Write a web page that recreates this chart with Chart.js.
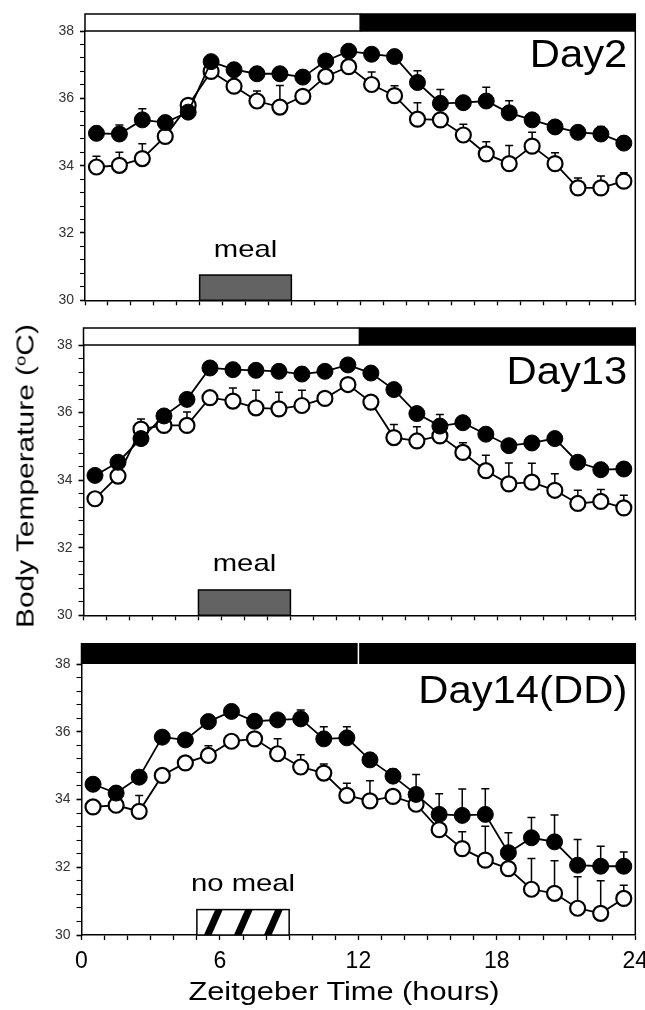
<!DOCTYPE html>
<html><head><meta charset="utf-8">
<script src="https://cdn.jsdelivr.net/npm/chart.js@4.4.1/dist/chart.umd.min.js"></script>
<style>
html,body{margin:0;padding:0;background:#fff;}
#wrap{position:relative;width:645px;height:1010px;overflow:hidden;font-family:"Liberation Sans",Arial,sans-serif;background:#fff;}
canvas{position:absolute;left:0;}
.t{position:absolute;white-space:nowrap;color:#000;line-height:1;}
#ytitle{left:26px;top:476px;font-size:23px;transform:translate(-50%,-50%) rotate(-90deg) scale(1.3,1);}
#xtitle{left:344px;top:991px;font-size:25px;transform:translate(-50%,-50%) scale(1.23,1);}
sup{font-size:0.62em;vertical-align:0.55em;line-height:0;}
</style></head><body>
<div id="wrap">
<canvas id="c1" width="645" height="310" style="top:0px"></canvas>
<canvas id="c2" width="645" height="310" style="top:315px"></canvas>
<canvas id="c3" width="645" height="380" style="top:630px"></canvas>
<div class="t" id="ytitle">Body Temperature (<sup>o</sup>C)</div>
<div class="t" id="xtitle">Zeitgeber Time (hours)</div>
</div>
<script>
// ---------- data ----------
const hours = [0.5,1.5,2.5,3.5,4.5,5.5,6.5,7.5,8.5,9.5,10.5,11.5,12.5,13.5,14.5,15.5,16.5,17.5,18.5,19.5,20.5,21.5,22.5,23.5];
const xTickLabels = [0,6,12,18,24];
const yTickLabels = [30,32,34,36,38];
const panelTitles = ['Day2','Day13','Day14(DD)'];
const mealLabels = ['meal','meal','no meal'];
const mealWindow = [5,9];      // hours
const mealBarTop = 30.75;      // °C (bar drawn from axis to here)
const mealLabelY = 31.3;

const day2Filled  = [34.96,34.94,35.36,35.28,35.59,37.09,36.85,36.73,36.73,36.63,37.11,37.40,37.31,37.24,36.47,35.85,35.87,35.92,35.57,35.36,35.15,34.99,34.94,34.67];
const day2FilledErr = [0.2,0.27,0.33,0.15,0.15,0.1,0.15,0.15,0.15,0.1,0.1,0.1,0.1,0.1,0.35,0.41,0.15,0.41,0.36,0.15,0.1,0.1,0.22,0.1];
const day2Open    = [33.96,34.01,34.21,34.87,35.79,36.80,36.36,35.92,35.74,36.06,36.65,36.94,36.41,36.08,35.38,35.36,34.91,34.35,34.06,34.58,34.06,33.34,33.34,33.54];
const day2OpenErr = [0.32,0.39,0.44,0.1,0.15,0.1,0.29,0.3,0.64,0.1,0.1,0.1,0.37,0.29,0.49,0.15,0.32,0.36,0.54,0.41,0.32,0.29,0.35,0.25];

const day13Filled = [34.14,34.53,35.23,35.90,36.39,37.32,37.27,37.25,37.22,37.14,37.22,37.41,37.17,36.68,35.97,35.60,35.70,35.36,35.02,35.10,35.23,34.53,34.31,34.33];
const day13FilledErr = [0.1,0.1,0.1,0.1,0.2,0.1,0.1,0.1,0.1,0.1,0.1,0.1,0.1,0.1,0.1,0.34,0.1,0.1,0.1,0.1,0.1,0.1,0.1,0.1];
const day13Open   = [33.45,34.12,35.51,35.62,35.62,36.44,36.34,36.14,36.11,36.21,36.42,36.83,36.31,35.26,35.16,35.31,34.82,34.28,33.89,33.94,33.70,33.31,33.37,33.18];
const day13OpenErr = [0.1,0.1,0.3,0.1,0.4,0.1,0.39,0.52,0.49,0.45,0.1,0.1,0.1,0.39,0.42,0.15,0.29,0.46,0.62,0.56,0.49,0.39,0.35,0.37];

const day14Filled = [34.45,34.19,34.66,35.84,35.76,36.30,36.60,36.31,36.35,36.38,35.79,35.82,35.17,34.69,34.15,33.56,33.53,33.56,32.43,32.87,32.75,32.06,32.03,32.03];
const day14FilledErr = [0.1,0.1,0.1,0.1,0.1,0.1,0.1,0.1,0.1,0.26,0.36,0.33,0.15,0.2,0.59,0.61,0.78,0.76,0.59,0.60,0.79,0.76,0.59,0.42];
const day14Open   = [33.78,33.83,33.65,34.71,35.08,35.30,35.72,35.79,35.35,34.96,34.78,34.12,33.96,34.09,33.86,33.11,32.55,32.21,31.96,31.35,31.23,30.79,30.64,31.08];
const day14OpenErr = [0.1,0.1,0.47,0.1,0.1,0.29,0.1,0.1,0.44,0.36,0.27,0.36,0.59,0.2,0.2,0.3,0.5,1.0,0.6,0.91,0.96,0.93,0.96,0.39];

// ---------- helpers ----------
function stretchText(ctx, text, x, y, align, sx, font) {
  ctx.save();
  ctx.font = font; ctx.fillStyle = '#000'; ctx.textAlign = align; ctx.textBaseline = 'alphabetic';
  ctx.translate(x, y); ctx.scale(sx, 1); ctx.fillText(text, 0, 0);
  ctx.restore();
}

const deco = {
  id: 'deco',
  beforeDatasetsDraw(chart, args, o) {
    const {ctx, chartArea: a, scales: {x, y}} = chart;
    // meal bar
    const x0 = x.getPixelForValue(mealWindow[0]), x1 = x.getPixelForValue(mealWindow[1]);
    const yt = y.getPixelForValue(mealBarTop), yb = a.bottom;
    ctx.save();
    if (o.hatched) {
      ctx.fillStyle = '#fff'; ctx.fillRect(x0, yt, x1 - x0, yb - yt);
      ctx.beginPath(); ctx.rect(x0, yt, x1 - x0, yb - yt); ctx.clip();
      ctx.strokeStyle = '#000'; ctx.lineWidth = 7;
      for (let sx = x0 - 20; sx < x1 + 30; sx += 30) {
        ctx.beginPath(); ctx.moveTo(sx, yb + 2); ctx.lineTo(sx + 13, yt - 2); ctx.stroke();
      }
      ctx.restore(); ctx.save();
    } else {
      ctx.fillStyle = '#636363'; ctx.fillRect(x0, yt, x1 - x0, yb - yt);
    }
    ctx.strokeStyle = '#000'; ctx.lineWidth = 1.5;
    ctx.strokeRect(x0, yt, x1 - x0, yb - yt);
    ctx.restore();
    // meal label
    stretchText(ctx, o.mealLabel, x.getPixelForValue((mealWindow[0] + mealWindow[1]) / 2), y.getPixelForValue(mealLabelY), 'center', 1.22, '24px "Liberation Sans", Arial, sans-serif');
    // error bars (upward SEM)
    ctx.save();
    ctx.strokeStyle = '#000'; ctx.lineWidth = 1.5;
    chart.data.datasets.forEach((ds, i) => {
      const meta = chart.getDatasetMeta(i);
      ds.err.forEach((e, j) => {
        const pt = meta.data[j];
        const top = y.getPixelForValue(ds.data[j].y + e);
        ctx.beginPath();
        ctx.moveTo(pt.x, pt.y); ctx.lineTo(pt.x, top);
        ctx.moveTo(pt.x - 4, top); ctx.lineTo(pt.x + 4, top);
        ctx.stroke();
      });
    });
    ctx.restore();
  },
  afterDraw(chart, args, o) {
    const {ctx, chartArea: a, scales: {x}} = chart;
    ctx.save();
    // right frame line
    ctx.strokeStyle = '#000'; ctx.lineWidth = 1.5;
    ctx.beginPath(); ctx.moveTo(a.right, a.top); ctx.lineTo(a.right, a.bottom); ctx.stroke();
    // light/dark bar
    const xl = x.getPixelForValue(0), xm = x.getPixelForValue(12), xr = x.getPixelForValue(24);
    const bt = a.top - o.barH, bh = o.barH;
    if (o.dd) {
      ctx.fillStyle = '#000'; ctx.fillRect(xl - 0.75, bt, xr - xl + 1.5, bh);
      ctx.strokeStyle = '#fff'; ctx.lineWidth = 1.5;
      ctx.beginPath(); ctx.moveTo(xm, bt); ctx.lineTo(xm, a.top); ctx.stroke();
    } else {
      ctx.fillStyle = '#fff'; ctx.fillRect(xl, bt, xm - xl, bh);
      ctx.fillStyle = '#000'; ctx.fillRect(xm, bt - 0.75, xr - xm + 0.75, bh + 1.5);
      ctx.strokeStyle = '#000'; ctx.lineWidth = 1.5;
      ctx.strokeRect(xl, bt, xm - xl, bh);
    }
    ctx.restore();
    // panel title
    stretchText(ctx, o.title, a.right - 8, a.top + o.titleBase, 'right', 1.1, '38px "Liberation Sans", Arial, sans-serif');
  }
};

function isIn(list, v) { return list.some(t => Math.abs(t - v) < 1e-6); }

function makePanel(id, P, filled, filledErr, open, openErr) {
  const H = document.getElementById(id).height;
  return new Chart(document.getElementById(id), {
    type: 'line',
    data: {
      datasets: [
        { label: 'filled', data: hours.map((h, i) => ({x: h, y: filled[i]})), err: filledErr,
          borderColor: '#000', borderWidth: 1.8, backgroundColor: '#000',
          pointRadius: 8, pointBackgroundColor: '#000', pointBorderColor: '#000', pointBorderWidth: 1, tension: 0 },
        { label: 'open', data: hours.map((h, i) => ({x: h, y: open[i]})), err: openErr,
          borderColor: '#000', borderWidth: 1.8, backgroundColor: '#fff',
          pointRadius: 7.5, pointBackgroundColor: '#fff', pointBorderColor: '#000', pointBorderWidth: 2.2, tension: 0 }
      ]
    },
    options: {
      responsive: false, animation: false, devicePixelRatio: 1,
      layout: { padding: { left: 0, top: P.top, right: 645 - P.right, bottom: 0 } },
      plugins: { legend: { display: false }, tooltip: { enabled: false },
        deco: { barH: P.barH, dd: P.dd, title: P.title, titleBase: P.titleBase, mealLabel: P.mealLabel, hatched: P.hatched } },
      scales: {
        x: {
          type: 'linear', min: 0, max: 24,
          ticks: { stepSize: 1, autoSkip: false, maxRotation: 0, padding: 8, color: '#000',
            font: { family: '"Liberation Sans", Arial, sans-serif', size: 23 },
            callback: v => (P.xLabels && isIn(xTickLabels, v)) ? String(v) : '' },
          grid: { drawOnChartArea: false, drawTicks: true, tickLength: 5, tickColor: '#000', tickWidth: 1.3 },
          border: { display: true, color: '#000', width: 1.5 },
          afterFit(s) { s.height = H - P.bottom; s.paddingLeft = 0; s.paddingRight = 0; }
        },
        y: {
          type: 'linear', min: 30, max: 38,
          ticks: { stepSize: 0.4, autoSkip: false, padding: 6, color: '#333',
            font: { family: '"Liberation Sans", Arial, sans-serif', size: 14 },
            callback: v => isIn(yTickLabels, v) ? String(Math.round(v)) : '' },
          grid: { drawOnChartArea: false, drawTicks: true, tickLength: 5, tickColor: '#000',
            tickWidth: c => (c.tick && isIn(yTickLabels, c.tick.value)) ? 1.6 : 1.1 },
          border: { display: true, color: '#000', width: 1.5 },
          afterFit(s) { s.width = P.left; s.paddingTop = 0; s.paddingBottom = 0; }
        }
      }
    },
    plugins: [deco]
  });
}

makePanel('c1', { left: 85, right: 638, top: 31, bottom: 303, barH: 17, dd: false, title: panelTitles[0], titleBase: 36, mealLabel: mealLabels[0], hatched: false, xLabels: false },
  day2Filled, day2FilledErr, day2Open, day2OpenErr);
makePanel('c2', { left: 83.5, right: 638, top: 30, bottom: 302.5, barH: 17, dd: false, title: panelTitles[1], titleBase: 39, mealLabel: mealLabels[1], hatched: false, xLabels: false },
  day13Filled, day13FilledErr, day13Open, day13OpenErr);
makePanel('c3', { left: 81.5, right: 637, top: 34, bottom: 305, barH: 21, dd: true, title: panelTitles[2], titleBase: 39, mealLabel: mealLabels[2], hatched: true, xLabels: true },
  day14Filled, day14FilledErr, day14Open, day14OpenErr);
</script>
</body></html>
